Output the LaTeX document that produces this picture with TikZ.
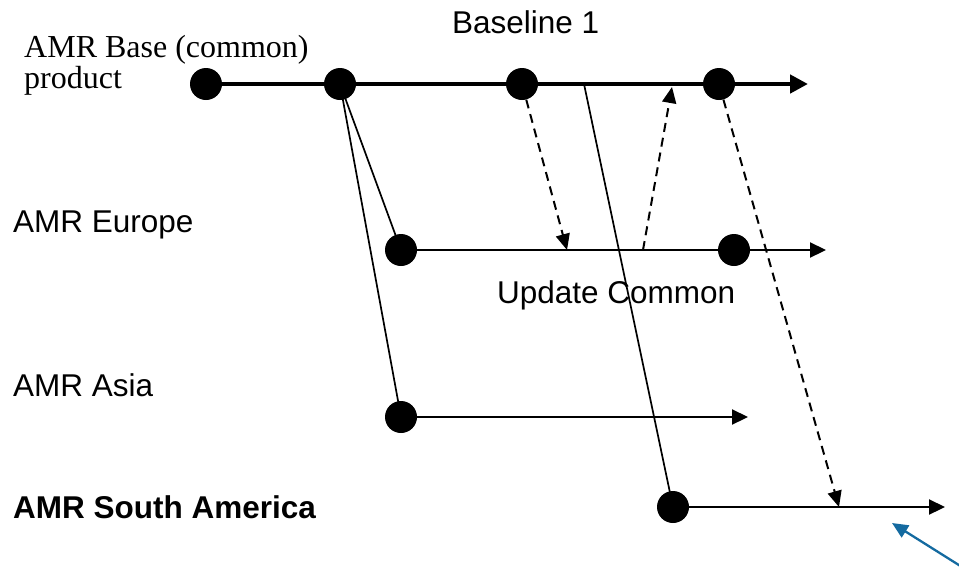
\documentclass[tikz,border=0pt]{standalone}
\usepackage{fontspec}
\setmainfont{Liberation Serif}
\setsansfont{Liberation Sans}
\usetikzlibrary{arrows.meta}
\definecolor{callout}{RGB}{20,106,160}
\begin{document}
\begin{tikzpicture}[x=1pt,y=-1pt,
  dot/.style={circle,fill=black,inner sep=0pt,minimum size=32pt},
  lane/.style={line width=2.2pt,-{Triangle[length=16pt,width=15pt]}},
  mainlane/.style={line width=4.8pt,-{Triangle[length=18pt,width=18pt]}},
  branch/.style={line width=1.7pt},
  merge/.style={line width=2pt,dash pattern=on 9pt off 6pt,-{Triangle[length=16pt,width=14pt]}},
  sanslbl/.style={font=\sffamily\fontsize{31.5}{36}\selectfont,inner sep=0pt,anchor=base west},
  seriflbl/.style={font=\fontsize{32}{36}\selectfont,inner sep=0pt,anchor=base west}]
\useasboundingbox (0,0) rectangle (959,571);

% labels
\node[seriflbl] (lbase) at (24,57) {AMR Base (common)};
\node[seriflbl] (lprod) at (24,88) {product};
\node[sanslbl] (lbl1) at (452,33) {Baseline 1};
\node[sanslbl] (leu) at (13,232) {AMR Europe};
\node[sanslbl] (lupd) at (497,303) {Update Common};
\node[sanslbl] (las) at (13,396) {AMR Asia};
\node[sanslbl,font=\sffamily\bfseries\fontsize{31.5}{36}\selectfont] (lsa) at (13,518) {AMR South America};

% release points
\node[dot] (b1) at (206,84) {};
\node[dot] (b2) at (340,84) {};
\node[dot] (b3) at (522,84) {};
\node[dot] (b4) at (719,84) {};
\node[dot] (e1) at (401,250) {};
\node[dot] (e2) at (734,250) {};
\node[dot] (a1) at (401,417) {};
\node[dot] (s1) at (673,507) {};

% lane ends and junctions
\coordinate (bend) at (808,84);
\coordinate (eend) at (826,250);
\coordinate (aend) at (748,417);
\coordinate (send) at (945,507);
\coordinate (fork) at (584,84);
\coordinate (ein) at (567,250);
\coordinate (eout) at (643,250);
\coordinate (bin) at (672,87);
\coordinate (sin) at (839,507);
\coordinate (ctail) at (962,567);
\coordinate (ctip) at (892,523);

% lanes
\draw[mainlane] (b1.center) -- (bend);
\draw[lane] (e1.center) -- (eend);
\draw[lane] (a1.center) -- (aend);
\draw[lane] (s1.center) -- (send);

% branches
\draw[branch] (b2.center) -- (e1.center);
\draw[branch] (b2.center) -- (a1.center);
\draw[branch] (fork) -- (s1.center);

% merges
\draw[merge] (b3) -- (ein);
\draw[merge] (eout) -- (bin);
\draw[merge] (b4) -- (sin);

% pointer
\draw[callout,line width=2.3pt,-{Triangle[length=16pt,width=14pt]}] (ctail) -- (ctip);
\end{tikzpicture}
\end{document}
